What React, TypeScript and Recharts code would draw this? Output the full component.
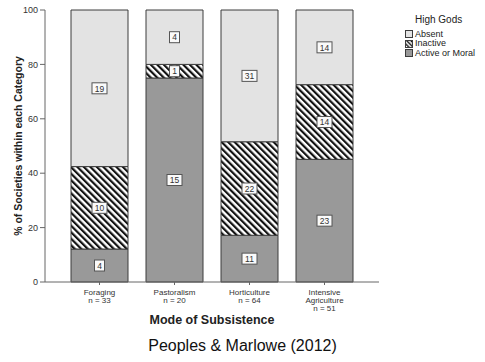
import { BarChart, Bar, XAxis, YAxis, LabelList } from 'recharts';

const categories = ['Foraging', 'Pastoralism', 'Horticulture', 'Intensive Agriculture'];
const tickLines = [['Foraging'], ['Pastoralism'], ['Horticulture'], ['Intensive', 'Agriculture']];
const activeCounts = [4, 15, 11, 23];
const inactiveCounts = [10, 1, 22, 14];
const absentCounts = [19, 4, 31, 14];
const yTicks = [0, 20, 40, 60, 80, 100];

const totals = categories.map((_, i) => activeCounts[i] + inactiveCounts[i] + absentCounts[i]);

const data = categories.map((name, i) => ({
  name,
  active: (activeCounts[i] / totals[i]) * 100,
  inactive: (inactiveCounts[i] / totals[i]) * 100,
  absent: (absentCounts[i] / totals[i]) * 100,
  activeN: activeCounts[i],
  inactiveN: inactiveCounts[i],
  absentN: absentCounts[i]
}));

const FONT = '"Liberation Sans", Arial, sans-serif';
const ABSENT = '#e3e3e3';
const ACTIVE = '#999999';
const EDGE = '#3c3c3c';

function CategoryTick({ x, y, payload }: any) {
  const i = categories.indexOf(payload.value);
  const lines = [...(tickLines[i] || [payload.value]), `n = ${totals[i]}`];
  return (
    <g transform={`translate(${x},${y})`}>
      {lines.map((l, k) => (
        <text key={k} x={0} y={k * 8} dy={8} textAnchor="middle" fontSize={8} fill="#333" fontFamily={FONT}>
          {l}
        </text>
      ))}
    </g>
  );
}

function CountBox(props: any) {
  const { x, y, width, height, value } = props;
  const cx = Number(x) + Number(width) / 2;
  const cy = Number(y) + Number(height) / 2;
  const w = String(value).length > 1 ? 15 : 10;
  const h = 11;
  return (
    <g>
      <rect x={cx - w / 2} y={cy - h / 2} width={w} height={h} fill="#fafafa" stroke="#555" strokeWidth={1} />
      <text x={cx} y={cy + 3.2} textAnchor="middle" fontSize={8.5} fill="#333" fontFamily={FONT}>
        {value}
      </text>
    </g>
  );
}

function YTitle(props: any) {
  const vb = props.viewBox || { x: 0, y: 10, width: 45, height: 272 };
  const cx = 18;
  const cy = vb.y + vb.height / 2;
  return (
    <text
      x={cx}
      y={cy}
      transform={`rotate(-90, ${cx}, ${cy})`}
      textAnchor="middle"
      dominantBaseline="central"
      fontSize={10.5}
      fontWeight="bold"
      fill="#222"
      fontFamily={FONT}
    >
      % of Societies within each Category
    </text>
  );
}

function Swatch({ kind }: { kind: string }) {
  return (
    <svg width={8} height={8} style={{ marginRight: 2, flex: 'none' }}>
      <defs>
        <pattern id={`lg-${kind}`} patternUnits="userSpaceOnUse" width={3} height={3} patternTransform="rotate(-45)">
          <rect width={3} height={3} fill="#fff" />
          <rect width={1.4} height={3} fill="#111" />
        </pattern>
      </defs>
      <rect
        x={0.5}
        y={0.5}
        width={7}
        height={7}
        fill={kind === 'absent' ? ABSENT : kind === 'active' ? ACTIVE : `url(#lg-${kind})`}
        stroke={EDGE}
      />
    </svg>
  );
}

const legendItems = [
  { kind: 'absent', label: 'Absent' },
  { kind: 'inactive', label: 'Inactive' },
  { kind: 'active', label: 'Active or Moral' }
];

export default function App() {
  return (
    <div style={{ position: 'absolute', left: 0, top: 0, width: 485, height: 362, background: '#fff', fontFamily: FONT }}>
      <BarChart width={485} height={362} data={data} margin={{ top: 10, right: 106, left: 0, bottom: 30 }} barCategoryGap="12%">
        <defs>
          <pattern id="hatch" patternUnits="userSpaceOnUse" width={4.6} height={4.6} patternTransform="rotate(-45)">
            <rect width={4.6} height={4.6} fill="#fff" />
            <rect width={2.2} height={4.6} fill="#111" />
          </pattern>
        </defs>
        <XAxis
          dataKey="name"
          height={50}
          padding={{ left: 17, right: 17 }}
          axisLine={{ stroke: '#666' }}
          tickLine={{ stroke: '#666' }}
          tickSize={3}
          tickMargin={2}
          interval={0}
          tick={<CategoryTick />}
          label={{
            value: 'Mode of Subsistence',
            position: 'insideBottom',
            offset: 8,
            style: { fontSize: 12.5, fontWeight: 'bold', fill: '#222', fontFamily: FONT }
          }}
        />
        <XAxis xAxisId="top" orientation="top" dataKey="name" height={0} tick={false} tickLine={false} axisLine={{ stroke: '#888' }} />
        <YAxis
          width={45}
          domain={[0, 100]}
          ticks={yTicks}
          axisLine={{ stroke: '#666' }}
          tickLine={{ stroke: '#666' }}
          tickSize={5}
          tickMargin={2}
          tick={{ fontSize: 9, fill: '#333', fontFamily: FONT }}
          label={<YTitle />}
        />
        <YAxis yAxisId="right" orientation="right" width={0} tick={false} tickLine={false} axisLine={{ stroke: '#888' }} />
        <Bar dataKey="active" stackId="a" fill={ACTIVE} stroke={EDGE} strokeWidth={1} isAnimationActive={false}>
          <LabelList dataKey="activeN" content={<CountBox />} />
        </Bar>
        <Bar dataKey="inactive" stackId="a" fill="url(#hatch)" stroke={EDGE} strokeWidth={1} isAnimationActive={false}>
          <LabelList dataKey="inactiveN" content={<CountBox />} />
        </Bar>
        <Bar dataKey="absent" stackId="a" fill={ABSENT} stroke={EDGE} strokeWidth={1} isAnimationActive={false}>
          <LabelList dataKey="absentN" content={<CountBox />} />
        </Bar>
      </BarChart>

      <div style={{ position: 'absolute', left: 405, top: 15, fontSize: 9, color: '#222', lineHeight: '9.5px' }}>
        <div style={{ fontSize: 10, marginLeft: 10, marginBottom: 5 }}>High Gods</div>
        {legendItems.map((it) => (
          <div key={it.kind} style={{ display: 'flex', alignItems: 'center', whiteSpace: 'nowrap' }}>
            <Swatch kind={it.kind} />
            <span>{it.label}</span>
          </div>
        ))}
      </div>

      <div style={{ position: 'absolute', left: 0, top: 336, width: 485, textAlign: 'center', fontSize: 16, lineHeight: '20px', color: '#111' }}>
        Peoples &amp; Marlowe (2012)
      </div>
    </div>
  );
}
